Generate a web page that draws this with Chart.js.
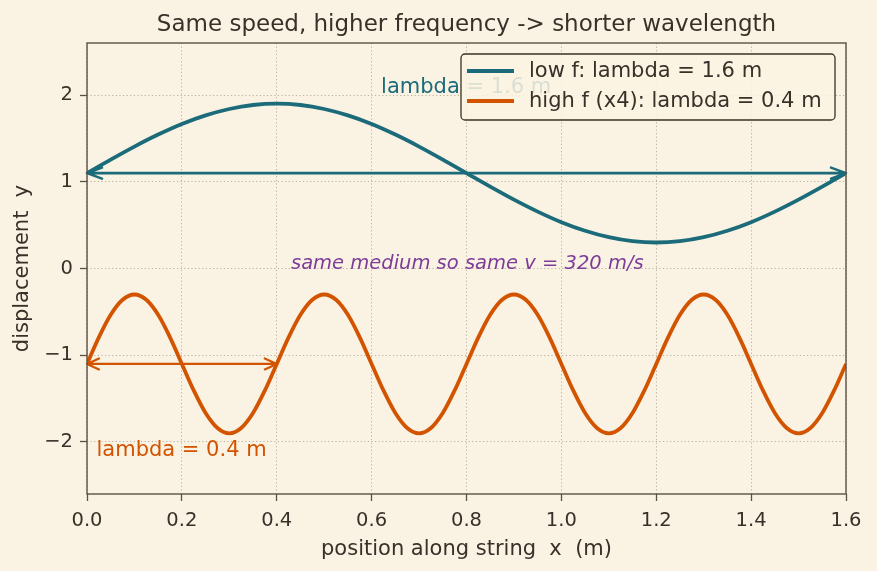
<!DOCTYPE html>
<html>
<head>
<meta charset="utf-8">
<script src="https://cdn.jsdelivr.net/npm/chart.js@4.4.1/dist/chart.umd.min.js"></script>
<style>
  html, body { margin: 0; padding: 0; background: #faf3e3; }
  #wrap { width: 877px; height: 571px; position: relative; }
</style>
</head>
<body>
<div id="wrap"><canvas id="waveChart" width="877" height="571"></canvas></div>
<script>
// Data
const lowX = [0, 0.05, 0.1, 0.15, 0.2, 0.25, 0.3, 0.35, 0.4, 0.45, 0.5, 0.55, 0.6, 0.65, 0.7, 0.75, 0.8,
              0.85, 0.9, 0.95, 1.0, 1.05, 1.1, 1.15, 1.2, 1.25, 1.3, 1.35, 1.4, 1.45, 1.5, 1.55, 1.6];
const lowY = [1.10, 1.256, 1.406, 1.544, 1.666, 1.765, 1.839, 1.885, 1.90, 1.885, 1.839, 1.765, 1.666, 1.544, 1.406, 1.256, 1.10,
              0.944, 0.794, 0.656, 0.534, 0.435, 0.361, 0.315, 0.30, 0.315, 0.361, 0.435, 0.534, 0.656, 0.794, 0.944, 1.10];

const highX = [0, 0.025, 0.05, 0.075, 0.1, 0.125, 0.15, 0.175, 0.2, 0.225, 0.25, 0.275, 0.3, 0.325, 0.35, 0.375,
               0.4, 0.425, 0.45, 0.475, 0.5, 0.525, 0.55, 0.575, 0.6, 0.625, 0.65, 0.675, 0.7, 0.725, 0.75, 0.775,
               0.8, 0.825, 0.85, 0.875, 0.9, 0.925, 0.95, 0.975, 1.0, 1.025, 1.05, 1.075, 1.1, 1.125, 1.15, 1.175,
               1.2, 1.225, 1.25, 1.275, 1.3, 1.325, 1.35, 1.375, 1.4, 1.425, 1.45, 1.475, 1.5, 1.525, 1.55, 1.575, 1.6];
const highY = [-1.10, -0.794, -0.534, -0.361, -0.30, -0.361, -0.534, -0.794, -1.10, -1.406, -1.666, -1.839, -1.90, -1.839, -1.666, -1.406,
               -1.10, -0.794, -0.534, -0.361, -0.30, -0.361, -0.534, -0.794, -1.10, -1.406, -1.666, -1.839, -1.90, -1.839, -1.666, -1.406,
               -1.10, -0.794, -0.534, -0.361, -0.30, -0.361, -0.534, -0.794, -1.10, -1.406, -1.666, -1.839, -1.90, -1.839, -1.666, -1.406,
               -1.10, -0.794, -0.534, -0.361, -0.30, -0.361, -0.534, -0.794, -1.10, -1.406, -1.666, -1.839, -1.90, -1.839, -1.666, -1.406,
               -1.10];

const xTicks = [0, 0.2, 0.4, 0.6, 0.8, 1.0, 1.2, 1.4, 1.6];
const yTicks = [-2, -1, 0, 1, 2];

const seriesLabels = ['low f: lambda = 1.6 m', 'high f (x4): lambda = 0.4 m'];

// arrows: [x0, x1, y]
const lowArrow = [0, 1.6, 1.1];
const highArrow = [0, 0.4, -1.1];

const notes = [
    { text: 'lambda = 1.6 m', x: 0.62, y: 2.02, color: '#1b6b7a', font: '21px "DejaVu Sans"' },
    { text: 'same medium so same v = 320 m/s', x: 0.43, y: 0.0, color: '#7d3c98', font: 'italic 19.5px "DejaVu Sans"' },
    { text: 'lambda = 0.4 m', x: 0.02, y: -2.16, color: '#d35400', font: '21px "DejaVu Sans"' }
];

const TEAL = '#1b6b7a';
const ORANGE = '#d35400';
const INK = '#3b3029';
const FRAME = '#5c5044';
const BG = '#faf3e3';
const GRID = '#b3a896';

function toPoints(xs, ys) {
    return xs.map((x, i) => ({ x: x, y: ys[i] }));
}

function drawArrow(ctx, x0, x1, y, color, width, head) {
    const half = 5.5;
    ctx.save();
    ctx.strokeStyle = color;
    ctx.lineWidth = width;
    ctx.lineCap = 'round';
    ctx.lineJoin = 'round';
    ctx.beginPath();
    ctx.moveTo(x0, y);
    ctx.lineTo(x1, y);
    ctx.moveTo(x0 + head, y - half);
    ctx.lineTo(x0, y);
    ctx.lineTo(x0 + head, y + half);
    ctx.moveTo(x1 - head, y - half);
    ctx.lineTo(x1, y);
    ctx.lineTo(x1 - head, y + half);
    ctx.stroke();
    ctx.restore();
}

const backgroundPlugin = {
    id: 'bg',
    beforeDraw(chart) {
        const ctx = chart.ctx;
        ctx.save();
        ctx.fillStyle = BG;
        ctx.fillRect(0, 0, chart.width, chart.height);
        ctx.restore();
    }
};

const extrasPlugin = {
    id: 'extras',
    afterDatasetsDraw(chart) {
        const ctx = chart.ctx;
        const xs = chart.scales.x, ys = chart.scales.y;
        const area = chart.chartArea;

        // arrows
        drawArrow(ctx, xs.getPixelForValue(lowArrow[0]), xs.getPixelForValue(lowArrow[1]),
                  ys.getPixelForValue(lowArrow[2]), TEAL, 2.6, 15);
        drawArrow(ctx, xs.getPixelForValue(highArrow[0]), xs.getPixelForValue(highArrow[1]),
                  ys.getPixelForValue(highArrow[2]), ORANGE, 2.2, 12);

        // text notes
        notes.forEach(n => {
            ctx.save();
            ctx.font = n.font;
            ctx.fillStyle = n.color;
            ctx.textAlign = 'left';
            ctx.textBaseline = 'alphabetic';
            ctx.fillText(n.text, xs.getPixelForValue(n.x), ys.getPixelForValue(n.y));
            ctx.restore();
        });

        // frame (all four sides)
        ctx.save();
        ctx.strokeStyle = FRAME;
        ctx.lineWidth = 1.4;
        ctx.strokeRect(area.left, area.top, area.right - area.left, area.bottom - area.top);
        ctx.restore();

        // legend box in upper right
        const bx = 461, by = 54, bw = 374, bh = 66;
        ctx.save();
        ctx.beginPath();
        ctx.roundRect(bx, by, bw, bh, 4);
        ctx.fillStyle = 'rgba(250, 243, 227, 0.85)';
        ctx.fill();
        ctx.strokeStyle = INK;
        ctx.lineWidth = 1.3;
        ctx.stroke();
        const colors = [TEAL, ORANGE];
        const rows = [71, 101];
        ctx.font = '21px "DejaVu Sans"';
        ctx.textBaseline = 'middle';
        ctx.fillStyle = INK;
        seriesLabels.forEach((label, i) => {
            ctx.beginPath();
            ctx.strokeStyle = colors[i];
            ctx.lineWidth = 3.8;
            ctx.moveTo(467, rows[i]);
            ctx.lineTo(514, rows[i]);
            ctx.stroke();
            ctx.fillText(label, 529, rows[i] + 1);
        });
        ctx.restore();
    }
};

const ctx = document.getElementById('waveChart').getContext('2d');
const waveChart = new Chart(ctx, {
    type: 'line',
    data: {
        datasets: [{
            label: seriesLabels[0],
            data: toPoints(lowX, lowY),
            borderColor: TEAL,
            borderWidth: 3.8,
            pointRadius: 0,
            cubicInterpolationMode: 'monotone',
            fill: false
        }, {
            label: seriesLabels[1],
            data: toPoints(highX, highY),
            borderColor: ORANGE,
            borderWidth: 3.8,
            pointRadius: 0,
            cubicInterpolationMode: 'monotone',
            fill: false
        }]
    },
    options: {
        responsive: false,
        animation: false,
        layout: {
            padding: { left: 0, right: 31, top: 0, bottom: 0 }
        },
        plugins: {
            legend: { display: false },
            tooltip: { enabled: false },
            title: {
                display: true,
                fullSize: false,
                text: 'Same speed, higher frequency -> shorter wavelength',
                color: INK,
                font: { family: 'DejaVu Sans', size: 23, weight: 'normal', lineHeight: 1.2 },
                padding: { top: 11, bottom: 4.4 }
            }
        },
        scales: {
            x: {
                type: 'linear',
                min: 0,
                max: 1.6,
                afterBuildTicks: scale => { scale.ticks = xTicks.map(v => ({ value: v })); },
                afterFit: scale => { scale.height = 77; },
                grid: {
                    color: GRID,
                    lineWidth: 0.9,
                    tickColor: FRAME,
                    tickLength: 7,
                    tickWidth: 1.3,
                    tickBorderDash: []
                },
                border: { display: false, dash: [1.2, 2.4] },
                ticks: {
                    color: INK,
                    font: { family: 'DejaVu Sans', size: 19.5 },
                    padding: 8,
                    maxRotation: 0,
                    callback: v => v.toFixed(1)
                },
                title: {
                    display: true,
                    text: 'position along string  x  (m)',
                    color: INK,
                    font: { family: 'DejaVu Sans', size: 21 },
                    padding: { top: 0, bottom: 9 }
                }
            },
            y: {
                type: 'linear',
                min: -2.6,
                max: 2.6,
                afterBuildTicks: scale => { scale.ticks = yTicks.map(v => ({ value: v })); },
                afterFit: scale => { scale.width = 87; },
                grid: {
                    color: GRID,
                    lineWidth: 0.9,
                    tickColor: FRAME,
                    tickLength: 7,
                    tickWidth: 1.3,
                    tickBorderDash: []
                },
                border: { display: false, dash: [1.2, 2.4] },
                ticks: {
                    color: INK,
                    font: { family: 'DejaVu Sans', size: 19.5 },
                    padding: 7,
                    callback: v => (v < 0 ? '\u2212' + Math.abs(v) : String(v))
                },
                title: {
                    display: true,
                    text: 'displacement  y',
                    color: INK,
                    font: { family: 'DejaVu Sans', size: 21 },
                    padding: { top: 10, bottom: 0 }
                }
            }
        }
    },
    plugins: [backgroundPlugin, extrasPlugin]
});
</script>
</body>
</html>
